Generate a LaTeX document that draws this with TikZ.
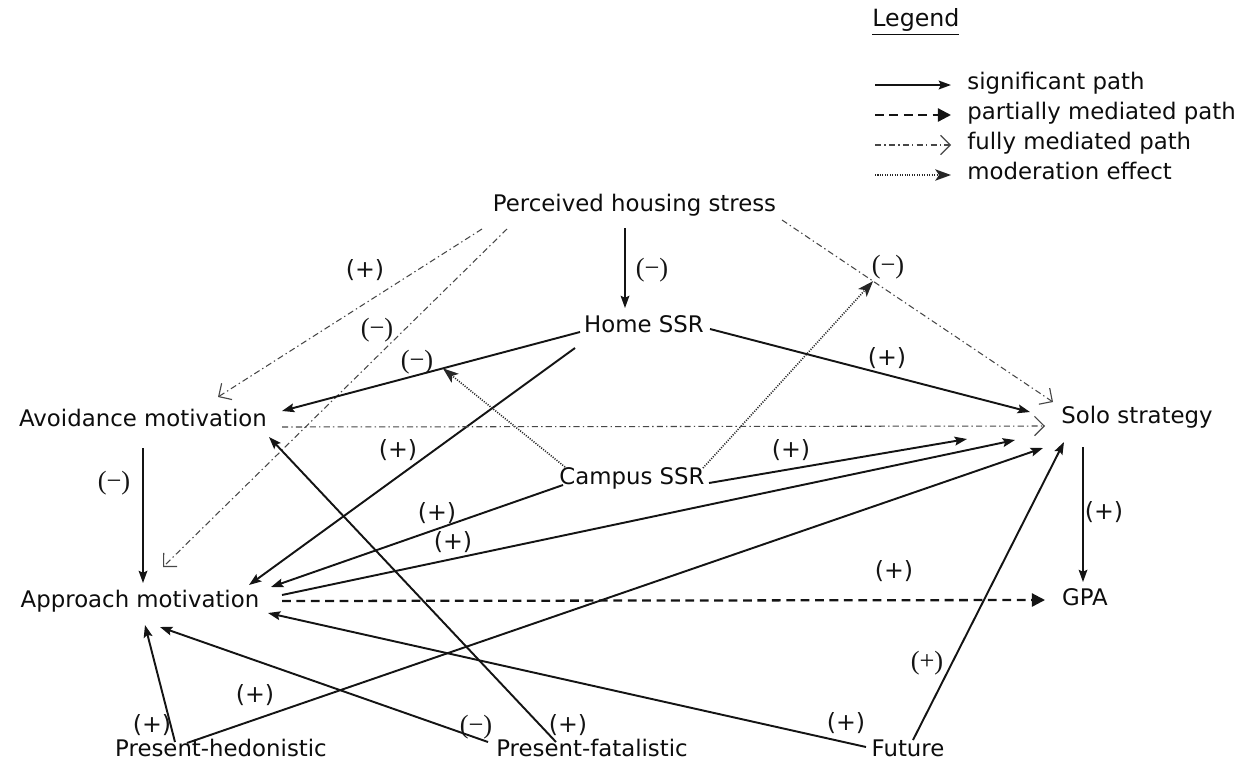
\documentclass[tikz,border=0pt]{standalone}
\usepackage{fontspec}
\setmainfont{DejaVu Sans}
\newfontfamily\signfont{Liberation Serif}
\usetikzlibrary{arrows.meta,calc}

\begin{document}
\begin{tikzpicture}[x=0.02cm,y=-0.02cm,
  var/.style={font=\fontsize{13}{15}\selectfont, inner sep=0pt,
    text height=0.72em, text depth=0.2em, text=black!95},
  sgn/.style={font=\fontsize{13.5}{15}\selectfont, inner sep=0pt, text=black!92},
  sgs/.style={font=\signfont\fontsize{15}{17}\selectfont, inner sep=0pt, text=black!92},
  sig/.style={line width=1.1pt, black!92,
    -{Stealth[length=7pt,width=5pt,inset=1.2pt]}},
  thinsig/.style={sig, line width=0.75pt},
  partial/.style={line width=1.3pt, black!92, dash pattern=on 5pt off 3.2pt,
    -{Triangle[length=7.5pt,width=7.5pt]}},
  full/.style={line width=0.6pt, black!72,
    dash pattern=on 3.5pt off 1.8pt on 0.8pt off 1.8pt,
    -{Straight Barb[length=5.5pt,width=11pt,line width=0.65pt]}},
  moder/.style={line width=0.9pt, black!85, dash pattern=on 0.6pt off 0.8pt,
    -{Stealth[length=9pt,width=6.5pt,inset=2.2pt]}}
]
\useasboundingbox (0,0) rectangle (1258,768);

% ---------- legend ----------
\node[font=\fontsize{13.5}{15}\selectfont, inner sep=0pt, anchor=west, text=black!95]
  (legtitle) at (872,22) {\underline{Legend}};
\node[var, anchor=west] (lg1) at (967,85)  {significant path};
\node[var, anchor=west] (lg2) at (967,115) {partially mediated path};
\node[var, anchor=west] (lg3) at (967,145) {fully mediated path};
\node[var, anchor=west] (lg4) at (967,175) {moderation effect};
\draw[sig]     ([shift={(-92,0)}]lg1.west) -- ([shift={(-16,0)}]lg1.west);
\draw[partial] ([shift={(-92,0)}]lg2.west) -- ([shift={(-16,0)}]lg2.west);
\draw[full]    ([shift={(-92,0)}]lg3.west) -- ([shift={(-16,0)}]lg3.west);
\draw[moder]   ([shift={(-92,0)}]lg4.west) -- ([shift={(-16,0)}]lg4.west);

% ---------- variables ----------
\node[var] (phs)    at (634.5,207) {Perceived housing stress};
\node[var] (home)   at (644,328)   {Home SSR};
\node[var] (avoid)  at (143,422)   {Avoidance motivation};
\node[var] (appr)   at (140,603)   {Approach motivation};
\node[var] (campus) at (632,480)   {Campus SSR};
\node[var] (solo)   at (1137,419)  {Solo strategy};
\node[var] (gpa)    at (1085,601)  {GPA};
\node[var] (hedon)  at (221,752)   {Present-hedonistic};
\node[var] (fatal)  at (592,752)   {Present-fatalistic};
\node[var] (future) at (908,752)   {Future};

% ---------- paths ----------
\draw[thinsig] ([shift={(-9.5,21)}]phs.center) -- ([shift={(-19,-20)}]home.center);
\draw[full] ([shift={(-152.5,22)}]phs.center) -- ([shift={(75,-25)}]avoid.center);
\draw[full] ([shift={(-127.5,22)}]phs.center) -- ([shift={(23,-36)}]appr.center);
\draw[full] ([shift={(147.5,13)}]phs.center) -- coordinate[pos=0.336] (modB)
  ([shift={(-84,-17)}]solo.center);

\draw[sig] ([shift={(-64,4)}]home.center) -- coordinate[pos=0.46] (modA)
  ([shift={(139,-11)}]avoid.center);
\draw[sig] ([shift={(-69,20)}]home.center) -- ([shift={(109,-18)}]appr.center);
\draw[sig] ([shift={(66,1)}]home.center) -- ([shift={(-107,-7)}]solo.center);

\draw[moder] ([shift={(-67,-13)}]campus.center) -- (modA);
\draw[moder] ([shift={(71,-12)}]campus.center) -- (modB);
\draw[sig] ([shift={(77,3)}]campus.center) -- ([shift={(-170,20)}]solo.center);
\draw[sig] ([shift={(-69,5)}]campus.center) -- ([shift={(131,-16)}]appr.center);

\draw[thinsig] ([shift={(0,26)}]avoid.center) -- ([shift={(3,-20)}]appr.center);
\draw[full] ([shift={(139,5)}]avoid.center) -- ([shift={(-92,7)}]solo.center);

\draw[sig] ([shift={(142,-8)}]appr.center) -- ([shift={(-122,21)}]solo.center);
\draw[partial] ([shift={(142,-2)}]appr.center) -- ([shift={(-40,-1)}]gpa.center);
\draw[thinsig] ([shift={(-54,28)}]solo.center) -- ([shift={(-2,-19)}]gpa.center);

\draw[sig] ([shift={(-46,-10)}]hedon.center) -- ([shift={(5,22)}]appr.center);
\draw[sig] ([shift={(-34,-9)}]hedon.center) -- ([shift={(-94,29)}]solo.center);
\draw[sig] ([shift={(-104,-10)}]fatal.center) -- ([shift={(20,24)}]appr.center);
\draw[sig] ([shift={(-36,-10)}]fatal.center) -- ([shift={(126,15)}]avoid.center);
\draw[sig] ([shift={(-42,-5)}]future.center) -- ([shift={(128,10)}]appr.center);
\draw[sig] ([shift={(5,-12)}]future.center) -- ([shift={(-73,23)}]solo.center);

% ---------- signs ----------
\node[sgs] (s1)  at (652,270)  {(−)};
\node[sgn] (s2)  at (365,270)  {(+)};
\node[sgs] (s3)  at (377,330)  {(−)};
\node[sgs] (s4)  at (888,267)  {(−)};
\node[sgs] (s5)  at (417,362)  {(−)};
\node[sgn] (s6)  at (398,450)  {(+)};
\node[sgn] (s7)  at (887,358)  {(+)};
\node[sgn] (s8)  at (437,513)  {(+)};
\node[sgn] (s9)  at (453,542)  {(+)};
\node[sgn] (s10) at (791,450)  {(+)};
\node[sgs] (s11) at (114,483)  {(−)};
\node[sgn] (s12) at (1104,512) {(+)};
\node[sgn] (s13) at (894,571)  {(+)};
\node[sgn] (s14) at (255,695)  {(+)};
\node[sgn] (s15) at (152,725)  {(+)};
\node[sgs] (s16) at (476,727)  {(−)};
\node[sgn] (s17) at (568,725)  {(+)};
\node[sgn] (s18) at (846,723)  {(+)};
\node[sgs] (s19) at (927,663)  {(+)};
\end{tikzpicture}
\end{document}
